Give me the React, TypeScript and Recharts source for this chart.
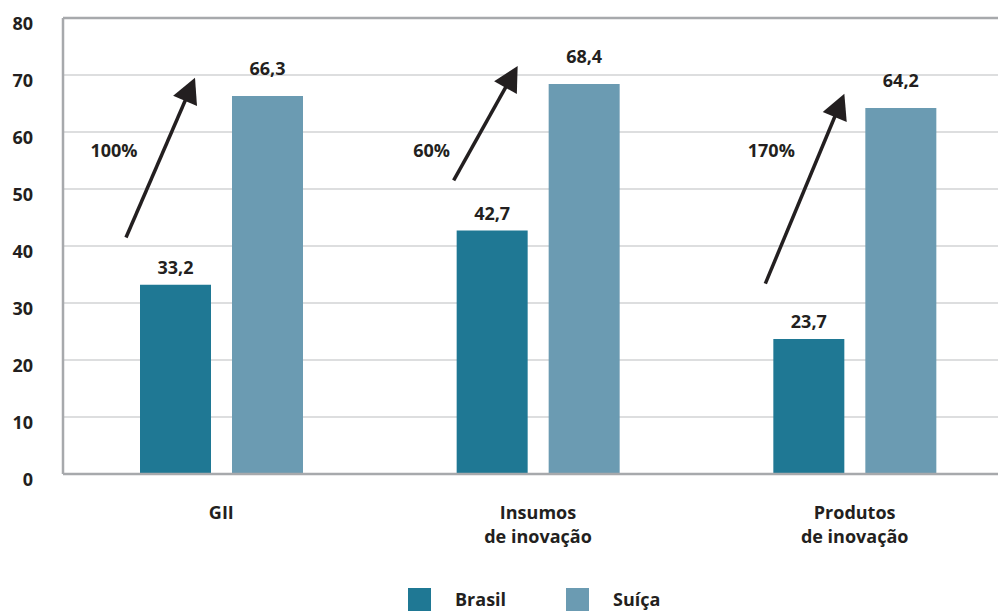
import { BarChart, Bar, XAxis, YAxis, CartesianGrid, ReferenceLine, LabelList } from "recharts";

const categories = ["GII", "Insumos\nde inovação", "Produtos\nde inovação"];
const brasil = [33.2, 42.7, 23.7];
const suica = [66.3, 68.4, 64.2];
const growth = ["100%", "60%", "170%"];
// arrow tail / tip heights, in axis units
const arrowFrom = [41.5, 51.5, 33.4];
const arrowTo = [69.5, 71.6, 66.7];
const growthAt = [56.9, 56.9, 56.9];
const yTicks = [0, 10, 20, 30, 40, 50, 60, 70, 80];

// horizontal placement of the annotations, px from the Brasil bar's left edge
const tailDx = [-14, -3, -8];
const tipDx = [55, 61, 71];
const pctDx = [-26, -25, -2];

const INK = "#231f20";
const FONT = "'Open Sans', sans-serif";
const C_BR = "#1f7894";
const C_CH = "#6b9bb2";

const data = categories.map((name, i) => ({ name, brasil: brasil[i], suica: suica[i] }));

const fmt = (v: number) => v.toFixed(1).replace(".", ",");

function YTick({ x, y, payload }: any) {
  return (
    <text x={x} y={y + 12} textAnchor="end" fontFamily={FONT} fontWeight={700} fontSize={18} fill={INK}>
      {payload.value}
    </text>
  );
}

function XTick({ x, y, payload }: any) {
  const lines = String(payload.value).split("\n");
  return (
    <text textAnchor="middle" fontFamily={FONT} fontWeight={700} fontSize={18} fill={INK}>
      {lines.map((l, i) => (
        <tspan key={i} x={x} y={y + 45 + i * 24}>{l}</tspan>
      ))}
    </text>
  );
}

function valueLabel(lift: number) {
  return (props: any) => {
    const vb = props.viewBox ?? props;
    const { x, y, width } = vb;
    return (
      <text x={x + width / 2} y={y - lift} textAnchor="middle" fontFamily={FONT} fontWeight={700} fontSize={18} fill={INK}>
        {fmt(Number(props.value))}
      </text>
    );
  };
}

function BrasilExtras(props: any) {
  const vb = props.viewBox ?? props;
  const { x, y, width, height } = vb;
  const value = Number(props.value);
  let i = typeof props.index === "number" ? props.index : brasil.indexOf(value);
  if (i < 0) i = 0;
  const bottom = y + height;
  const k = height / value;
  const yAt = (v: number) => bottom - v * k;

  const sx = x + tailDx[i], sy = yAt(arrowFrom[i]);
  const tx = x + tipDx[i], ty = yAt(arrowTo[i]);
  const len = Math.hypot(tx - sx, ty - sy);
  const dx = (tx - sx) / len, dy = (ty - sy) / len;
  const head = 25, half = 13;
  const bx = tx - dx * head, by = ty - dy * head;
  const nx = -dy, ny = dx;
  const pts = `${tx},${ty} ${bx + nx * half},${by + ny * half} ${bx - nx * half},${by - ny * half}`;

  return (
    <g>
      <text x={x + width / 2} y={y - 11} textAnchor="middle" fontFamily={FONT} fontWeight={700} fontSize={18} fill={INK}>
        {fmt(value)}
      </text>
      <line x1={sx} y1={sy} x2={bx + dx * 2} y2={by + dy * 2} stroke={INK} strokeWidth={3.5} />
      <polygon points={pts} fill={INK} />
      <text x={x + pctDx[i]} y={yAt(growthAt[i]) + 7} textAnchor="middle" fontFamily={FONT} fontWeight={700} fontSize={18} fill={INK}>
        {growth[i]}
      </text>
    </g>
  );
}

function LegendBox() {
  const items = [
    { label: "Brasil", color: C_BR },
    { label: "Suíça", color: C_CH },
  ];
  return (
    <div style={{ position: "absolute", left: 408, top: 588, display: "flex", fontFamily: FONT, fontWeight: 700, fontSize: 18, color: INK }}>
      {items.map((it) => (
        <div key={it.label} style={{ display: "flex", alignItems: "flex-end", width: 158 }}>
          <span style={{ display: "inline-block", width: 23, height: 23, background: it.color, marginRight: 24 }} />
          <span style={{ lineHeight: "23px" }}>{it.label}</span>
        </div>
      ))}
    </div>
  );
}

export default function App() {
  return (
    <div style={{ position: "absolute", left: 0, top: 0, width: 998, height: 612, overflow: "hidden", background: "#fff" }}>
      <BarChart width={1020} height={612} data={data} margin={{ top: 18, right: 7, bottom: 0, left: 0 }} barSize={71} barGap={21}>
        <CartesianGrid vertical={false} stroke="#bcbec0" strokeWidth={1.2} />
        <XAxis
          dataKey="name"
          height={138}
          tickSize={0}
          tickMargin={0}
          tickLine={false}
          axisLine={{ stroke: "#a7a9ac", strokeWidth: 2.5 }}
          tick={<XTick />}
          interval={0}
        />
        <YAxis
          width={63}
          domain={[0, 80]}
          ticks={yTicks}
          tickSize={0}
          tickMargin={30}
          tickLine={false}
          axisLine={{ stroke: "#a7a9ac", strokeWidth: 2.5 }}
          tick={<YTick />}
          interval={0}
        />
        <ReferenceLine y={80} stroke="#a7a9ac" strokeWidth={2.5} />
        <Bar dataKey="brasil" name="Brasil" fill={C_BR} isAnimationActive={false}>
          <LabelList dataKey="brasil" content={<BrasilExtras />} />
        </Bar>
        <Bar dataKey="suica" name="Suíça" fill={C_CH} isAnimationActive={false}>
          <LabelList dataKey="suica" content={valueLabel(21)} />
        </Bar>
      </BarChart>
      <LegendBox />
    </div>
  );
}
